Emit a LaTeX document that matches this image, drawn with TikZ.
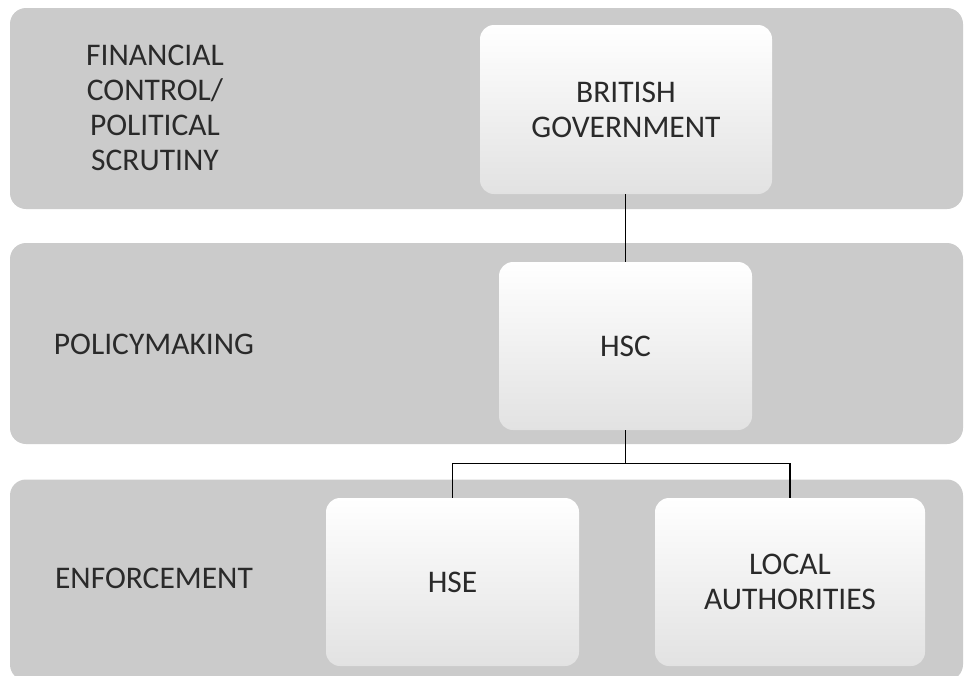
\documentclass[tikz,border=0pt]{standalone}
\usepackage{fontspec}
\setmainfont{Carlito}
\definecolor{bandgray}{HTML}{CBCBCB}
\definecolor{boxbot}{HTML}{E2E2E2}
\definecolor{txt}{HTML}{2A2A2A}
\tikzset{
  band/.style={fill=bandgray, draw=none, rounded corners=16pt, inner sep=0pt, minimum width=953pt, minimum height=201pt},
  orgbox/.style={draw=none, rounded corners=14pt, inner sep=0pt, align=center, text=txt,
    shading=axis, top color=white, middle color=white, bottom color=boxbot,
    font=\fontsize{31.5}{35}\selectfont},
  lvl/.style={inner sep=0pt, align=center, text=txt, font=\fontsize{31.5}{35}\selectfont},
  link/.style={draw=black, line width=1.2pt}
}
\begin{document}
\begin{tikzpicture}[x=1pt, y=-1pt]
\useasboundingbox (0,0) rectangle (964,675);
\clip (0,0) rectangle (964,675);
% bands
\node[band] (b1) at (486.5,108.5) {};
\node[band] (b2) at (486.5,343.5) {};
\node[band] (b3) at (486.5,580) {};
% level labels
\node[lvl] (l1) at (155,108) {FINANCIAL\\CONTROL/\\POLITICAL\\SCRUTINY};
\node[lvl] (l2) at (154,344) {POLICYMAKING};
\node[lvl] (l3) at (154,578.5) {ENFORCEMENT};
% boxes
\node[orgbox, minimum width=292pt, minimum height=169pt] (bg) at (626,109.5) {BRITISH\\GOVERNMENT};
\node[orgbox, minimum width=253pt, minimum height=168pt] (hsc) at (625.5,346) {HSC};
\node[orgbox, minimum width=253pt, minimum height=168pt] (hse) at (452.5,582) {HSE};
\node[orgbox, minimum width=270pt, minimum height=168pt] (la) at (790,582) {LOCAL\\AUTHORITIES};
% connectors
\coordinate (hub) at (625.5,463.5);
\draw[link] (hsc.north |- bg.south) -- (hsc.north);
\draw[link] (hsc.south) -- (hub);
\draw[link] (hse.north) |- (hub) -| (la.north);
\end{tikzpicture}
\end{document}
